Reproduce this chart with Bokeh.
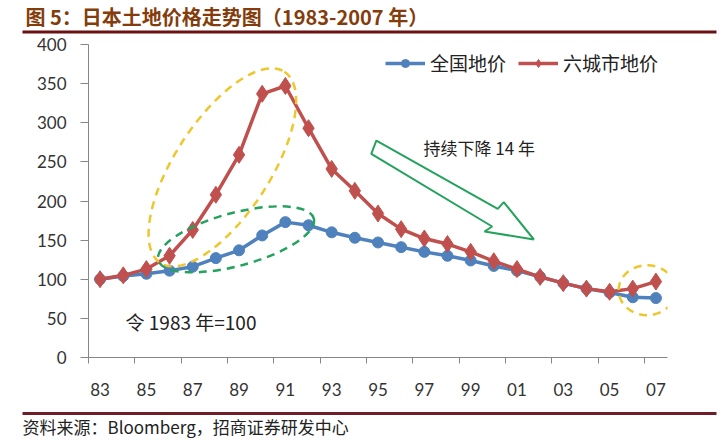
import math
from bokeh.plotting import figure
from bokeh.models import (FixedTicker, Legend, LegendItem, Label, BoxAnnotation,
                          ColumnDataSource, Range1d)
from bokeh.layouts import column
from bokeh.embed import file_html
from bokeh.resources import INLINE

# ---------------- data ----------------
years = [1983, 1984, 1985, 1986, 1987, 1988, 1989, 1990, 1991, 1992, 1993,
         1994, 1995, 1996, 1997, 1998, 1999, 2000, 2001, 2002, 2003, 2004,
         2005, 2006, 2007]
national = [100, 104, 107, 111, 116, 127, 137, 156, 173, 169, 160, 153, 147,
            141, 135, 130, 124, 117, 111, 103, 95, 88, 83, 77, 76]
six_cities = [100, 105, 113, 130, 163, 208, 259, 337, 347, 293, 241, 213, 184,
              164, 152, 145, 135, 123, 113, 103, 95, 88, 84, 88, 97]
label_years = [1983, 1985, 1987, 1989, 1991, 1993, 1995, 1997, 1999, 2001,
               2003, 2005, 2007]
label_texts = ["83", "85", "87", "89", "91", "93", "95", "97", "99", "01",
               "03", "05", "07"]
y_ticks = [0, 50, 100, 150, 200, 250, 300, 350, 400]

series_names = ["全国地价", "六城市地价"]
title_text = "图 5：日本土地价格走势图（1983-2007 年）"
source_text = "资料来源：Bloomberg，招商证券研发中心"
note_text = "令 1983 年=100"
arrow_text = "持续下降 14 年"

# ---------------- styles ----------------
BLUE = "#4F81BD"
RED = "#C0504D"
YELLOW = "#EEC62E"
GREEN = "#24A25E"
AXIS = "#868686"
TXT = "#333333"
CJK = "Noto Sans CJK SC"

# annotation geometry (data-space centres, screen-space sizes)
big_ell = dict(x=1988.28, y=243, w=228, h=95, angle=57)
green_ell = dict(x=1988.87, y=151, w=161, h=53, angle=15)
small_ell = dict(x=2006.62, y=86, w=57, h=50, angle=0)
arrow_x = [1994.93, 2000.17, 2000.43, 2001.73, 1999.60, 1999.93, 1994.71]
arrow_y = [277.3, 190.0, 198.5, 150.8, 161.0, 167.4, 260.3]

src = ColumnDataSource(dict(year=years, national=national, six=six_cities))

# ---------------- main chart ----------------
p = figure(frame_width=579, frame_height=313,
           x_range=Range1d(1982.5, 2007.5), y_range=Range1d(0, 400),
           toolbar_location=None, output_backend="svg", frame_align=False,
           min_border_left=88, min_border_right=53,
           min_border_top=10, min_border_bottom=43)
p.xgrid.visible = False
p.ygrid.visible = False
p.outline_line_color = None
p.background_fill_color = "white"
p.border_fill_color = "white"

boundaries = [y - 0.5 for y in label_years]
p.xaxis.ticker = FixedTicker(ticks=label_years, minor_ticks=boundaries)
p.xaxis.major_label_overrides = {y: t for y, t in zip(label_years, label_texts)}
p.xaxis.major_tick_out = 0
p.xaxis.major_tick_in = 0
p.xaxis.minor_tick_out = 6
p.xaxis.minor_tick_in = 0
p.xaxis.minor_tick_line_color = AXIS
p.xaxis.axis_line_color = AXIS
p.xaxis.major_label_standoff = 19

p.yaxis.ticker = FixedTicker(ticks=y_ticks)
p.yaxis.major_tick_out = 8
p.yaxis.major_tick_in = 0
p.yaxis.minor_tick_out = 0
p.yaxis.minor_tick_in = 0
p.yaxis.major_tick_line_color = AXIS
p.yaxis.axis_line_color = AXIS
p.yaxis.major_label_standoff = 14

for ax in (p.xaxis, p.yaxis):
    ax.major_label_text_font = "Lato"
    ax.major_label_text_font_size = "17px"
    ax.major_label_text_color = TXT

bl = p.line("year", "national", source=src, line_color=BLUE, line_width=3.5)
bs = p.scatter("year", "national", source=src, marker="circle", size=11,
               fill_color=BLUE, line_color=BLUE)
rl = p.line("year", "six", source=src, line_color=RED, line_width=3.5)
rs = p.scatter("year", "six", source=src, marker="diamond", size=17,
               fill_color=RED, line_color=RED)

for e, c in ((big_ell, YELLOW), (green_ell, GREEN), (small_ell, YELLOW)):
    p.ellipse(x=[e["x"]], y=[e["y"]], width=[e["w"]], height=[e["h"]],
              angle=[math.radians(e["angle"])], width_units="screen",
              height_units="screen", fill_alpha=0, line_color=c,
              line_width=2.5, line_dash="8 6")

p.patch(arrow_x, arrow_y, fill_alpha=0, line_color=GREEN, line_width=2)

p.add_layout(Label(x=1996.96, y=268, text=arrow_text, text_font=CJK,
                   text_font_size="17px", text_baseline="middle",
                   text_color="#222222"))
p.add_layout(Label(x=1984.1, y=46, text=note_text, text_font=CJK,
                   text_font_size="19px", text_baseline="middle",
                   text_color="#222222"))

legend = Legend(items=[LegendItem(label=series_names[0], renderers=[bl, bs]),
                       LegendItem(label=series_names[1], renderers=[rl, rs])],
                orientation="horizontal", location=(297, 281),
                glyph_width=40, glyph_height=20, label_height=20,
                label_standoff=5, spacing=12, padding=0, margin=0,
                border_line_alpha=0, background_fill_alpha=0,
                label_text_font=CJK, label_text_font_size="19px",
                label_text_color="#222222")
p.add_layout(legend, "center")


def strip(fig):
    fig.xgrid.visible = False
    fig.ygrid.visible = False
    fig.outline_line_color = None
    fig.background_fill_color = "white"
    fig.border_fill_color = "white"


# ---------------- header (canvas-pixel ranges) ----------------
hdr = figure(width=720, height=34, x_range=Range1d(0, 720),
             y_range=Range1d(0, 34), toolbar_location=None,
             output_backend="svg", frame_align=False,
             x_axis_type=None, y_axis_type=None, min_border=0)
strip(hdr)
hdr.add_layout(BoxAnnotation(left=22, right=716, bottom=1, top=4,
                             fill_color="#6A1212", fill_alpha=1,
                             line_color=None))
hdr.add_layout(Label(x=25, y=18, text=title_text, text_font=CJK,
                     text_font_size="20px", text_font_style="bold",
                     text_color="#843C0C", text_baseline="middle"))

# ---------------- footer (canvas-pixel ranges) ----------------
ftr = figure(width=720, height=46, x_range=Range1d(0, 720),
             y_range=Range1d(0, 46), toolbar_location=None,
             output_backend="svg", frame_align=False,
             x_axis_type=None, y_axis_type=None, min_border=0)
strip(ftr)
ftr.add_layout(BoxAnnotation(left=22, right=716, bottom=31.5, top=34.5,
                             fill_color="#6E1E28", fill_alpha=1,
                             line_color=None))
ftr.add_layout(Label(x=22, y=20, text=source_text, text_font=CJK,
                     text_font_size="17px", text_color="#222222",
                     text_baseline="middle"))

layout = column(hdr, p, ftr, spacing=0)
open("out.html", "w").write(file_html(layout, INLINE))
